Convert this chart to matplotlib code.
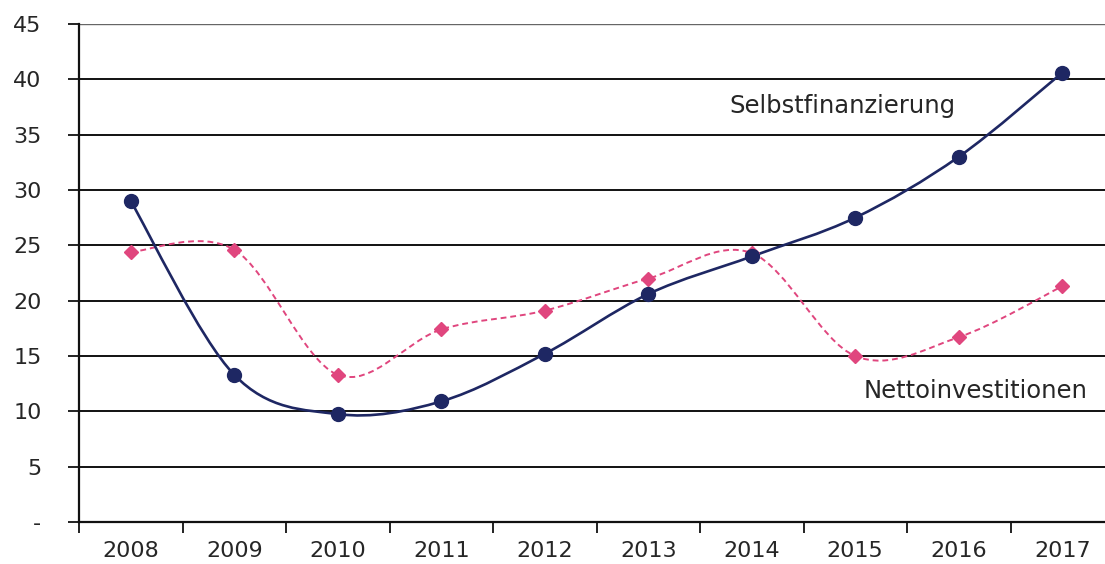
import numpy as np
import matplotlib
matplotlib.use("Agg")
import matplotlib.pyplot as plt
from matplotlib.path import Path
from matplotlib.patches import PathPatch

plt.rcParams['font.family'] = ['DejaVu Sans']

years = ['2008', '2009', '2010', '2011', '2012', '2013', '2014', '2015', '2016', '2017']
selbstfinanzierung = [29.0, 13.3, 9.75, 10.9, 15.2, 20.6, 24.0, 27.5, 33.0, 40.6]
nettoinvestitionen = [24.4, 24.6, 13.3, 17.4, 19.1, 22.0, 24.3, 15.0, 16.7, 21.3]
y_ticks = [0, 5, 10, 15, 20, 25, 30, 35, 40, 45]
y_tick_labels = ['-', '5', '10', '15', '20', '25', '30', '35', '40', '45']

NAVY = '#1e2763'
PINK = '#e0467e'
TEXT = '#262626'
FS = 16


def smooth_path(xs, ys):
    """Cubic Bezier path through the points (Catmull-Rom style tangents)."""
    pts = np.column_stack([xs, ys]).astype(float)
    n = len(pts)
    verts = [pts[0]]
    codes = [Path.MOVETO]
    for i in range(n - 1):
        p0 = pts[max(i - 1, 0)]
        p1 = pts[i]
        p2 = pts[i + 1]
        p3 = pts[min(i + 2, n - 1)]
        c1 = p1 + (p2 - p0) / 6.0
        c2 = p2 - (p3 - p1) / 6.0
        verts += [c1, c2, p2]
        codes += [Path.CURVE4] * 3
    return Path(verts, codes)


fig = plt.figure(figsize=(11.05, 5.64), dpi=100)
ax = fig.add_axes([79 / 1105, 42 / 564, 1035 / 1105, 498 / 564])

x = np.arange(len(years))

# grid lines
for v in y_ticks[1:]:
    ax.axhline(v, color='#111111' if v < 45 else '#666666',
               lw=1.4 if v < 45 else 1.0, zorder=1)

# smoothed series lines
ax.add_patch(PathPatch(smooth_path(x, nettoinvestitionen), fill=False,
                       edgecolor=PINK, lw=1.4, linestyle=(0, (3, 2)), zorder=3))
ax.add_patch(PathPatch(smooth_path(x, selbstfinanzierung), fill=False,
                       edgecolor=NAVY, lw=1.9, zorder=4))

# markers
ax.plot(x, nettoinvestitionen, linestyle='none', marker='D', markersize=7,
        color=PINK, zorder=5)
ax.plot(x, selbstfinanzierung, linestyle='none', marker='o', markersize=10,
        color=NAVY, zorder=6)

# series labels
ax.text(5.78, 37.0, 'Selbstfinanzierung', fontsize=17.5, color=TEXT,
        ha='left', va='baseline', zorder=7)
ax.text(7.08, 11.2, 'Nettoinvestitionen', fontsize=17.5, color=TEXT,
        ha='left', va='baseline', zorder=7)

ax.set_xlim(-0.5, len(years) - 0.5)
ax.set_ylim(0, 45)

ax.set_yticks(y_ticks)
ax.set_yticklabels(y_tick_labels)
ax.tick_params(axis='y', length=8, width=1.3, pad=19, labelsize=FS,
               color='#111111', labelcolor=TEXT)

# category labels centred, tick marks between categories
ax.set_xticks(x)
ax.set_xticklabels(years)
ax.set_xticks(np.arange(-0.5, len(years) + 0.5, 1.0), minor=True)
ax.tick_params(axis='x', which='major', length=0, pad=14, labelsize=FS,
               labelcolor=TEXT)
ax.tick_params(axis='x', which='minor', length=8, width=1.3, color='#111111')

for side in ('top', 'right'):
    ax.spines[side].set_visible(False)
ax.spines['left'].set_linewidth(1.6)
ax.spines['left'].set_color('#111111')
ax.spines['bottom'].set_linewidth(1.6)
ax.spines['bottom'].set_color('#111111')
ax.spines['left'].set_zorder(2)

fig.savefig('out.png', dpi=100, facecolor='white')
